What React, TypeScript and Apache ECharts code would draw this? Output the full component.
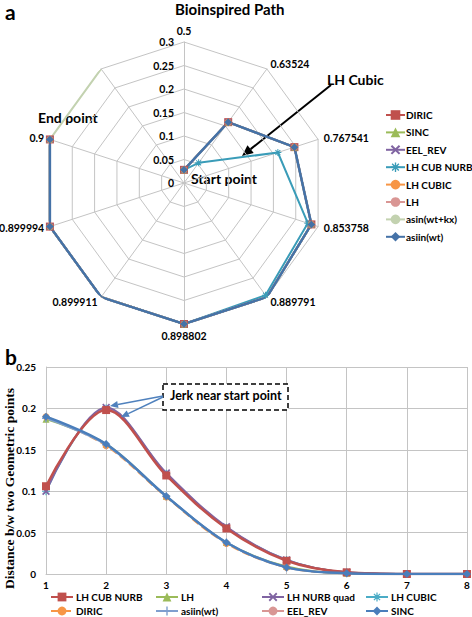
import React, { useEffect, useRef } from "react";
import * as echarts from "echarts";

// ---------- data: radar (a) ----------
const radarAxisNames = ["0.5", "0.63524", "0.767541", "0.853758", "0.889791", "0.898802", "0.899911", "0.899994", "0.9", ""];
const radarMax = 0.3;
const radarStep = 0.05;
const radarSeriesNames = ["DIRIC", "SINC", "EEL_REV", "LH CUB NURB", "LH CUBIC", "LH", "asin(wt+kx)", "asiin(wt)"];
const pathMain = [0.028, 0.16, 0.247, 0.285, 0.3, 0.3, 0.3, 0.3, 0.3, "-"];
const pathLhCubNurb = [0.028, 0.053, 0.21, 0.277, 0.295, 0.3, 0.3, 0.3, 0.3, "-"];
const pathAsinWtKx = [0.028, 0.16, 0.247, 0.285, 0.3, 0.3, 0.3, 0.3, 0.3, 0.3];

// ---------- data: line chart (b) ----------
const xCategories = ["1", "2", "3", "4", "5", "6", "7", "8"];
const lhCubNurb = [0.106, 0.198, 0.119, 0.055, 0.016, 0.002, 0, 0];
const lh = [0.187, 0.157, 0.094, 0.038, 0.009, 0.001, 0, 0];
const lhNurbQuad = [0.1, 0.201, 0.122, 0.057, 0.017, 0.002, 0, 0];
const lhCubic = [0.1, 0.2, 0.121, 0.056, 0.017, 0.002, 0, 0];
const diric = [0.19, 0.155, 0.093, 0.037, 0.008, 0.001, 0, 0];
const asiinWt = [0.188, 0.156, 0.094, 0.038, 0.008, 0.001, 0, 0];
const eelRev = [0.104, 0.199, 0.12, 0.056, 0.0165, 0.002, 0, 0];
const sinc = [0.19, 0.157, 0.094, 0.038, 0.008, 0.001, 0, 0];

const FONT = "Lato";
const X_SYMBOL = "path://M0,1.5L1.5,0L5,3.5L8.5,0L10,1.5L6.5,5L10,8.5L8.5,10L5,6.5L1.5,10L0,8.5L3.5,5Z";
const PLUS_SYMBOL = "path://M4.2,0H5.8V4.2H10V5.8H5.8V10H4.2V5.8H0V4.2H4.2Z";
const STAR_SYMBOL = "path://M4.3,0H5.7V4.3H10V5.7H5.7V10H4.3V5.7H0V4.3H4.3Z M1,2L2,1L5,4L8,1L9,2L6,5L9,8L8,9L5,6L2,9L1,8L4,5Z";

function arrow(x1: number, y1: number, x2: number, y2: number, color: string, width: number, hl: number, hw: number) {
  const dx = x2 - x1, dy = y2 - y1;
  const len = Math.sqrt(dx * dx + dy * dy);
  const ux = dx / len, uy = dy / len;
  const bx = x2 - ux * hl, by = y2 - uy * hl;
  const px = -uy, py = ux;
  return [
    { type: "line", shape: { x1, y1, x2: bx, y2: by }, style: { stroke: color, lineWidth: width }, silent: true },
    {
      type: "polygon",
      shape: { points: [[x2, y2], [bx + px * hw, by + py * hw], [bx - px * hw, by - py * hw]] },
      style: { fill: color },
      silent: true,
    },
  ];
}

function topOption(): any {
  const ccwIndicators = [radarAxisNames[0], ...radarAxisNames.slice(1).reverse()].map((n) => ({ name: n, min: 0, max: radarMax }));
  const main = { type: "line", coordinateSystem: "polar", z: 3 };
  const styles: Record<string, any> = {
    DIRIC: { color: "#c0504d", symbol: "rect", symbolSize: 8, width: 2, data: pathMain },
    SINC: { color: "#9bbb59", symbol: "triangle", symbolSize: 7, width: 2, data: pathMain },
    EEL_REV: { color: "#8064a2", symbol: X_SYMBOL, symbolSize: 7, width: 2, data: pathMain },
    "LH CUB NURB": { color: "#3a9cb8", symbol: STAR_SYMBOL, symbolSize: 7, width: 2, data: pathLhCubNurb },
    "LH CUBIC": { color: "#f79646", symbol: "circle", symbolSize: 7, width: 2, data: pathMain },
    LH: { color: "#d99694", symbol: "none", symbolSize: 0, width: 2, data: pathMain },
    "asin(wt+kx)": { color: "#c3d2b0", symbol: "none", symbolSize: 0, width: 2, data: pathAsinWtKx },
    "asiin(wt)": { color: "#4572a7", symbol: "diamond", symbolSize: 8, width: 2.5, data: pathMain },
  };
  const series = radarSeriesNames.map((name) => {
    const s = styles[name];
    return {
      ...main,
      name,
      data: s.data,
      symbol: s.symbol,
      symbolSize: s.symbolSize,
      showSymbol: s.symbol !== "none",
      connectNulls: false,
      itemStyle: { color: s.color },
      lineStyle: { color: s.color, width: s.width },
    };
  });
  return {
    animation: false,
    textStyle: { fontFamily: FONT },
    title: {
      text: "Bioinspired Path",
      left: 175,
      top: 1,
      padding: 0,
      textStyle: { fontFamily: FONT, fontSize: 15, fontWeight: "bold", color: "#000" },
    },
    legend: {
      orient: "vertical",
      left: 385,
      top: 110,
      padding: 0,
      itemGap: 7.4,
      itemWidth: 19,
      itemHeight: 12,
      textStyle: { fontFamily: FONT, fontSize: 10, fontWeight: "bold", color: "#000", padding: [0, 0, 0, -4] },
      data: radarSeriesNames,
    },
    radar: {
      center: [184, 183],
      radius: 141,
      shape: "polygon",
      splitNumber: Math.round(radarMax / radarStep),
      startAngle: 90,
      nameGap: 6,
      axisName: { color: "#000", fontFamily: FONT, fontSize: 10.5, fontWeight: "bold" },
      indicator: ccwIndicators,
      splitLine: { lineStyle: { color: "#c4c4c4", width: 1 } },
      splitArea: { show: false },
      axisLine: { lineStyle: { color: "#c4c4c4", width: 1 } },
    },
    polar: { center: [184, 183], radius: 141 },
    angleAxis: {
      type: "category",
      data: radarAxisNames,
      boundaryGap: false,
      startAngle: 90,
      clockwise: true,
      axisLine: { show: false },
      axisTick: { show: false },
      axisLabel: { show: false },
      splitLine: { show: false },
    },
    radiusAxis: {
      min: 0,
      max: radarMax,
      interval: radarStep,
      axisLine: { show: false },
      axisTick: { show: false },
      splitLine: { show: false },
      axisLabel: { margin: 10, color: "#000", fontFamily: FONT, fontSize: 10.5, fontWeight: "bold" },
      z: 5,
    },
    series,
    graphic: [
      { type: "text", left: 5, top: 1, style: { text: "a", fontFamily: FONT, fontSize: 21, fontWeight: "bold", fill: "#000" } },
      { type: "text", x: 327, y: 72, style: { text: "LH Cubic", fontFamily: FONT, fontSize: 14, fontWeight: "bold", fill: "#000" } },
      { type: "text", x: 191, y: 171, style: { text: "Start point", fontFamily: FONT, fontSize: 14, fontWeight: "bold", fill: "#000" } },
      { type: "text", x: 38, y: 110, style: { text: "End point", fontFamily: FONT, fontSize: 14, fontWeight: "bold", fill: "#000" } },
      ...arrow(331, 85, 242, 156, "#000", 2, 11, 5),
    ],
  };
}

function bottomOption(): any {
  const defs = [
    { name: "LH CUB NURB", data: lhCubNurb, color: "#c0504d", symbol: "rect", size: 8, width: 2.5, z: 4, type: "solid" },
    { name: "LH", data: lh, color: "#9bbb59", symbol: "triangle", size: 7, width: 2, z: 2, type: "solid" },
    { name: "LH NURB quad", data: lhNurbQuad, color: "#8064a2", symbol: X_SYMBOL, size: 8, width: 2, z: 3, type: "solid" },
    { name: "LH CUBIC", data: lhCubic, color: "#4bacc6", symbol: STAR_SYMBOL, size: 8, width: 2, z: 2, type: "solid" },
    { name: "DIRIC", data: diric, color: "#f79646", symbol: "circle", size: 7, width: 2, z: 2, type: "dashed" },
    { name: "asiin(wt)", data: asiinWt, color: "#7f9fcf", symbol: PLUS_SYMBOL, size: 8, width: 2, z: 2, type: "solid" },
    { name: "EEL_REV", data: eelRev, color: "#d99694", symbol: "none", size: 0, width: 2, z: 2, type: "solid" },
    { name: "SINC", data: sinc, color: "#4a7ebb", symbol: "diamond", size: 8, width: 2.5, z: 5, type: "solid" },
  ];
  const series = defs.map((d) => ({
    type: "line",
    name: d.name,
    data: d.data,
    smooth: 0.35,
    symbol: d.symbol,
    symbolSize: d.size,
    showSymbol: d.symbol !== "none",
    z: d.z,
    itemStyle: { color: d.color },
    lineStyle: { color: d.color, width: d.width, type: d.type },
  }));
  const legendCols = [
    { left: 50, data: ["LH CUB NURB", "DIRIC"] },
    { left: 155, data: ["LH", "asiin(wt)"] },
    { left: 261, data: ["LH NURB quad", "EEL_REV"] },
    { left: 365, data: ["LH CUBIC", "SINC"] },
  ];
  const legend = legendCols.map((c) => ({
    orient: "vertical",
    left: c.left,
    top: 247,
    itemGap: 4,
    itemWidth: 22,
    itemHeight: 11,
    padding: 0,
    textStyle: { fontFamily: FONT, fontSize: 10, fontWeight: "bold", color: "#000", padding: [0, 0, 0, -2] },
    data: c.data,
  }));
  const gray = "#c4c4c4";
  return {
    animation: false,
    textStyle: { fontFamily: FONT },
    grid: { left: 46, right: 5, top: 22, bottom: 43, containLabel: false, outerBoundsMode: "none" },
    legend,
    xAxis: {
      type: "category",
      data: xCategories,
      boundaryGap: false,
      axisLine: { lineStyle: { color: gray } },
      axisTick: { show: false },
      splitLine: { show: true, lineStyle: { color: gray } },
      axisLabel: { color: "#000", fontFamily: FONT, fontSize: 10, fontWeight: "bold", margin: 6 },
    },
    yAxis: {
      type: "value",
      min: 0,
      max: 0.25,
      interval: 0.05,
      name: "Distance b/w two Geometric points",
      nameLocation: "middle",
      nameGap: 30,
      nameMoveOverlap: false,
      nameTextStyle: {
        fontFamily: "Liberation Serif",
        fontSize: 13.5,
        fontWeight: "bold",
        color: "#000",
        padding: [0, 36, 0, 0],
      },
      axisLine: { show: true, lineStyle: { color: gray } },
      splitLine: { lineStyle: { color: gray } },
      axisLabel: { color: "#000", fontFamily: FONT, fontSize: 10, fontWeight: "bold", margin: 10 },
    },
    series,
    graphic: [
      { type: "text", left: 5, top: 1, style: { text: "b", fontFamily: FONT, fontSize: 21, fontWeight: "bold", fill: "#000" } },
      {
        type: "rect",
        shape: { x: 163, y: 39, width: 125, height: 26 },
        style: { fill: "#fff", stroke: "#000", lineWidth: 1.5, lineDash: [5, 3] },
        z: 10,
      },
      {
        type: "text",
        x: 170,
        y: 44,
        z: 11,
        style: { text: "Jerk near start point", fontFamily: FONT, fontSize: 12.5, fontWeight: "bold", fill: "#000" },
      },
      ...arrow(163, 51, 110, 61, "#4f81bd", 1.5, 8, 3.5).map((e: any) => ({ ...e, z: 12 })),
      ...arrow(163, 52, 121, 72, "#4f81bd", 1.5, 8, 3.5).map((e: any) => ({ ...e, z: 12 })),
    ],
  };
}

export default function App() {
  const topRef = useRef<HTMLDivElement>(null);
  const botRef = useRef<HTMLDivElement>(null);
  useEffect(() => {
    const c1 = echarts.init(topRef.current!, null, { renderer: "svg" });
    c1.setOption(topOption());
    const c2 = echarts.init(botRef.current!, null, { renderer: "svg" });
    c2.setOption(bottomOption());
    return () => {
      c1.dispose();
      c2.dispose();
    };
  }, []);
  return (
    <div style={{ position: "absolute", left: 0, top: 0, width: 472, height: 617, background: "#fff" }}>
      <div ref={topRef} style={{ position: "absolute", left: 0, top: 0, width: 472, height: 345 }} />
      <div ref={botRef} style={{ position: "absolute", left: 0, top: 345, width: 472, height: 272 }} />
    </div>
  );
}
